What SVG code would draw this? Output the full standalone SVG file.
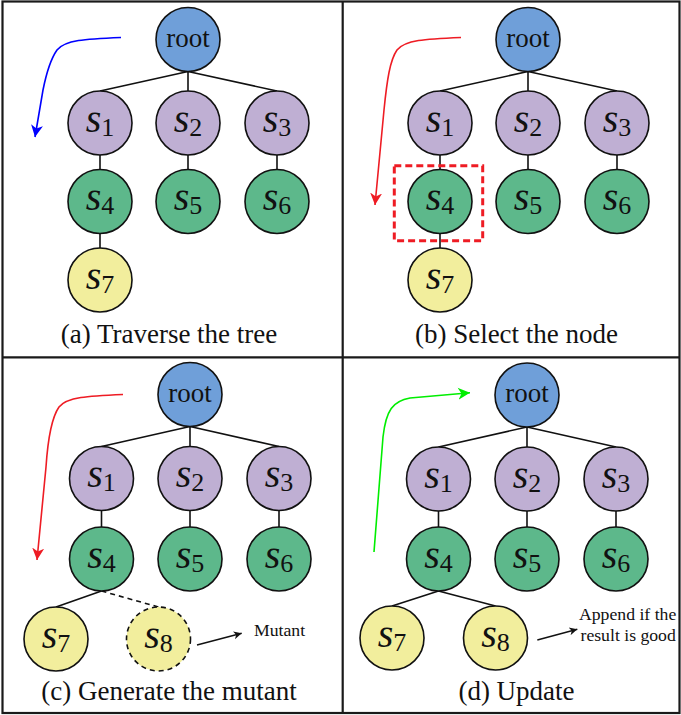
<svg xmlns="http://www.w3.org/2000/svg" width="681" height="715" viewBox="0 0 681 715">
<style>
text{font-family:"Liberation Serif","Times New Roman",serif;fill:#111}
.nd{stroke:#111;stroke-width:1.6}
.root{fill:#6f9fd9}
.pu{fill:#bfafd3}
.gr{fill:#5db88b}
.ye{fill:#f2ee9d}
.rt{font-size:27px;text-anchor:middle}
.lb{font-size:40px;text-anchor:middle;font-style:italic}
.sb{font-size:26px;font-style:normal}
.cap{font-size:27px;text-anchor:middle}
.note{font-size:17.7px}
.edge{stroke:#111;stroke-width:1.6;fill:none}
.dash{stroke:#111;stroke-width:1.6;fill:none;stroke-dasharray:5,4}
.frame{stroke:#1a1a1a;stroke-width:2.2;fill:none}
</style>
<defs>
<marker id="hb" markerUnits="userSpaceOnUse" markerWidth="14" markerHeight="14" refX="12" refY="6" orient="auto" viewBox="0 0 14 12"><path d="M0,0 L12,6 L0,12 L3.5,6 z" fill="#0000ff"/></marker>
<marker id="hr" markerUnits="userSpaceOnUse" markerWidth="14" markerHeight="14" refX="12" refY="6" orient="auto" viewBox="0 0 14 12"><path d="M0,0 L12,6 L0,12 L3.5,6 z" fill="#ee1c24"/></marker>
<marker id="hg" markerUnits="userSpaceOnUse" markerWidth="14" markerHeight="14" refX="12" refY="6" orient="auto" viewBox="0 0 14 12"><path d="M0,0 L12,6 L0,12 L3.5,6 z" fill="#00ee00"/></marker>
<marker id="hk" markerUnits="userSpaceOnUse" markerWidth="10" markerHeight="10" refX="8" refY="4" orient="auto" viewBox="0 0 10 8"><path d="M0,0 L8,4 L0,8 L2.3,4 z" fill="#111"/></marker>
</defs>

<g id="frame">
<rect class="frame" x="2.5" y="1.5" width="677" height="711.5"/>
<line class="frame" x1="342.7" y1="1.5" x2="342.7" y2="713"/>
<line class="frame" x1="2.5" y1="357.3" x2="679.5" y2="357.3"/>
</g>

<g id="connectors">
<!-- panel a -->
<path class="edge" d="M188,71.5 L100,91 M188,71.5 L188,91 M188,71.5 L277,91 M100,155 L100,169.5 M188,155 L188,169.5 M277,155 L277,169.5 M100,233.5 L100,248"/>
<path d="M121,37.5 C85,39 65,40 57,50 C50,60 46,75 43,90 L35,137" fill="none" stroke="#0000ff" stroke-width="1.6" marker-end="url(#hb)"/>
<!-- panel b -->
<path class="edge" d="M528,71.5 L440,91 M528,71.5 L528,91 M528,71.5 L617,91 M440,155 L440,169.5 M528,155 L528,169.5 M617,155 L617,169.5 M440,233.5 L440,248"/>
<path d="M461,37.5 C425,39 405,40 397,50 C390,60 387,80 384,110 L375,205" fill="none" stroke="#ee1c24" stroke-width="1.6" marker-end="url(#hr)"/>
<!-- panel c -->
<path class="edge" d="M190,426.5 L101.5,446.5 M190,426.5 L190,446.5 M190,426.5 L279,446.5 M101.5,510.5 L101.5,527 M190,510.5 L190,527 M279,510.5 L279,527 M101.5,591 L56,607"/>
<path class="dash" d="M101.5,591 L158.5,607"/>
<path d="M123,394.5 C88,396 67,397 59,407 C52,417 48,437 46,467 L37,560" fill="none" stroke="#ee1c24" stroke-width="1.6" marker-end="url(#hr)"/>
<path d="M197,645 L241.7,633.3" fill="none" stroke="#111" stroke-width="1.4" marker-end="url(#hk)"/>
<!-- panel d -->
<path class="edge" d="M527,427 L438.5,447 M527,427 L527,447 M527,427 L616,447 M438.5,511 L438.5,527 M527,511 L527,527 M616,511 L616,527 M438.5,591 L392,606 M438.5,591 L495.5,606"/>
<path d="M374,552 L383,437 C386,410 393,401 410,398 L470,392.7" fill="none" stroke="#00ee00" stroke-width="1.6" marker-end="url(#hg)"/>
<path d="M537.3,640 L577.3,629.3" fill="none" stroke="#111" stroke-width="1.4" marker-end="url(#hk)"/>
</g>

<!-- Panel a nodes -->
<g id="a-root"><circle class="nd root" cx="188" cy="39.5" r="32"/><text class="rt" x="188" y="46.5">root</text></g>
<g id="a-s1"><circle class="nd pu" cx="100" cy="123" r="32"/><text class="lb" x="100" y="131.5">s<tspan class="sb" dy="4">1</tspan></text></g>
<g id="a-s2"><circle class="nd pu" cx="188" cy="123" r="32"/><text class="lb" x="188" y="131.5">s<tspan class="sb" dy="4">2</tspan></text></g>
<g id="a-s3"><circle class="nd pu" cx="277" cy="123" r="32"/><text class="lb" x="277" y="131.5">s<tspan class="sb" dy="4">3</tspan></text></g>
<g id="a-s4"><circle class="nd gr" cx="100" cy="201.5" r="32"/><text class="lb" x="100" y="210">s<tspan class="sb" dy="4">4</tspan></text></g>
<g id="a-s5"><circle class="nd gr" cx="188" cy="201.5" r="32"/><text class="lb" x="188" y="210">s<tspan class="sb" dy="4">5</tspan></text></g>
<g id="a-s6"><circle class="nd gr" cx="277" cy="201.5" r="32"/><text class="lb" x="277" y="210">s<tspan class="sb" dy="4">6</tspan></text></g>
<g id="a-s7"><circle class="nd ye" cx="100" cy="280" r="32"/><text class="lb" x="100" y="288.5">s<tspan class="sb" dy="4">7</tspan></text></g>
<text class="cap" x="169" y="343">(a) Traverse the tree</text>

<!-- Panel b nodes -->
<g id="b-root"><circle class="nd root" cx="528" cy="39.5" r="32"/><text class="rt" x="528" y="46.5">root</text></g>
<g id="b-s1"><circle class="nd pu" cx="440" cy="123" r="32"/><text class="lb" x="440" y="131.5">s<tspan class="sb" dy="4">1</tspan></text></g>
<g id="b-s2"><circle class="nd pu" cx="528" cy="123" r="32"/><text class="lb" x="528" y="131.5">s<tspan class="sb" dy="4">2</tspan></text></g>
<g id="b-s3"><circle class="nd pu" cx="617" cy="123" r="32"/><text class="lb" x="617" y="131.5">s<tspan class="sb" dy="4">3</tspan></text></g>
<g id="b-s4"><circle class="nd gr" cx="440" cy="201.5" r="32"/><text class="lb" x="440" y="210">s<tspan class="sb" dy="4">4</tspan></text></g>
<g id="b-s5"><circle class="nd gr" cx="528" cy="201.5" r="32"/><text class="lb" x="528" y="210">s<tspan class="sb" dy="4">5</tspan></text></g>
<g id="b-s6"><circle class="nd gr" cx="617" cy="201.5" r="32"/><text class="lb" x="617" y="210">s<tspan class="sb" dy="4">6</tspan></text></g>
<g id="b-s7"><circle class="nd ye" cx="440" cy="280" r="32"/><text class="lb" x="440" y="288.5">s<tspan class="sb" dy="4">7</tspan></text></g>
<g id="b-select"><rect x="394.3" y="165.7" width="88.4" height="75" fill="none" stroke="#ee1c24" stroke-width="3" stroke-dasharray="7,4"/></g>
<text class="cap" x="516.5" y="343">(b) Select the node</text>

<!-- Panel c nodes -->
<g id="c-root"><circle class="nd root" cx="190" cy="394.5" r="32"/><text class="rt" x="190" y="401.5">root</text></g>
<g id="c-s1"><circle class="nd pu" cx="101.5" cy="478.5" r="32"/><text class="lb" x="101.5" y="487">s<tspan class="sb" dy="4">1</tspan></text></g>
<g id="c-s2"><circle class="nd pu" cx="190" cy="478.5" r="32"/><text class="lb" x="190" y="487">s<tspan class="sb" dy="4">2</tspan></text></g>
<g id="c-s3"><circle class="nd pu" cx="279" cy="478.5" r="32"/><text class="lb" x="279" y="487">s<tspan class="sb" dy="4">3</tspan></text></g>
<g id="c-s4"><circle class="nd gr" cx="101.5" cy="559" r="32"/><text class="lb" x="101.5" y="567.5">s<tspan class="sb" dy="4">4</tspan></text></g>
<g id="c-s5"><circle class="nd gr" cx="190" cy="559" r="32"/><text class="lb" x="190" y="567.5">s<tspan class="sb" dy="4">5</tspan></text></g>
<g id="c-s6"><circle class="nd gr" cx="279" cy="559" r="32"/><text class="lb" x="279" y="567.5">s<tspan class="sb" dy="4">6</tspan></text></g>
<g id="c-s7"><circle class="nd ye" cx="56" cy="639" r="32"/><text class="lb" x="56" y="647.5">s<tspan class="sb" dy="4">7</tspan></text></g>
<g id="c-s8"><circle class="ye" cx="158.5" cy="639" r="32" stroke="#111" stroke-width="1.6" stroke-dasharray="5,4"/><text class="lb" x="158.5" y="647.5">s<tspan class="sb" dy="4">8</tspan></text></g>
<text class="note" x="254" y="636">Mutant</text>
<text class="cap" x="169" y="700">(c) Generate the mutant</text>

<!-- Panel d nodes -->
<g id="d-root"><circle class="nd root" cx="527" cy="395" r="32"/><text class="rt" x="527" y="402">root</text></g>
<g id="d-s1"><circle class="nd pu" cx="438.5" cy="479" r="32"/><text class="lb" x="438.5" y="487.5">s<tspan class="sb" dy="4">1</tspan></text></g>
<g id="d-s2"><circle class="nd pu" cx="527" cy="479" r="32"/><text class="lb" x="527" y="487.5">s<tspan class="sb" dy="4">2</tspan></text></g>
<g id="d-s3"><circle class="nd pu" cx="616" cy="479" r="32"/><text class="lb" x="616" y="487.5">s<tspan class="sb" dy="4">3</tspan></text></g>
<g id="d-s4"><circle class="nd gr" cx="438.5" cy="559" r="32"/><text class="lb" x="438.5" y="567.5">s<tspan class="sb" dy="4">4</tspan></text></g>
<g id="d-s5"><circle class="nd gr" cx="527" cy="559" r="32"/><text class="lb" x="527" y="567.5">s<tspan class="sb" dy="4">5</tspan></text></g>
<g id="d-s6"><circle class="nd gr" cx="616" cy="559" r="32"/><text class="lb" x="616" y="567.5">s<tspan class="sb" dy="4">6</tspan></text></g>
<g id="d-s7"><circle class="nd ye" cx="392" cy="638" r="32"/><text class="lb" x="392" y="646.5">s<tspan class="sb" dy="4">7</tspan></text></g>
<g id="d-s8"><circle class="nd ye" cx="495.5" cy="638" r="32"/><text class="lb" x="495.5" y="646.5">s<tspan class="sb" dy="4">8</tspan></text></g>
<text class="note" x="579" y="620">Append if the</text>
<text class="note" x="580.5" y="641">result is good</text>
<text class="cap" x="516.5" y="700">(d) Update</text>
</svg>
